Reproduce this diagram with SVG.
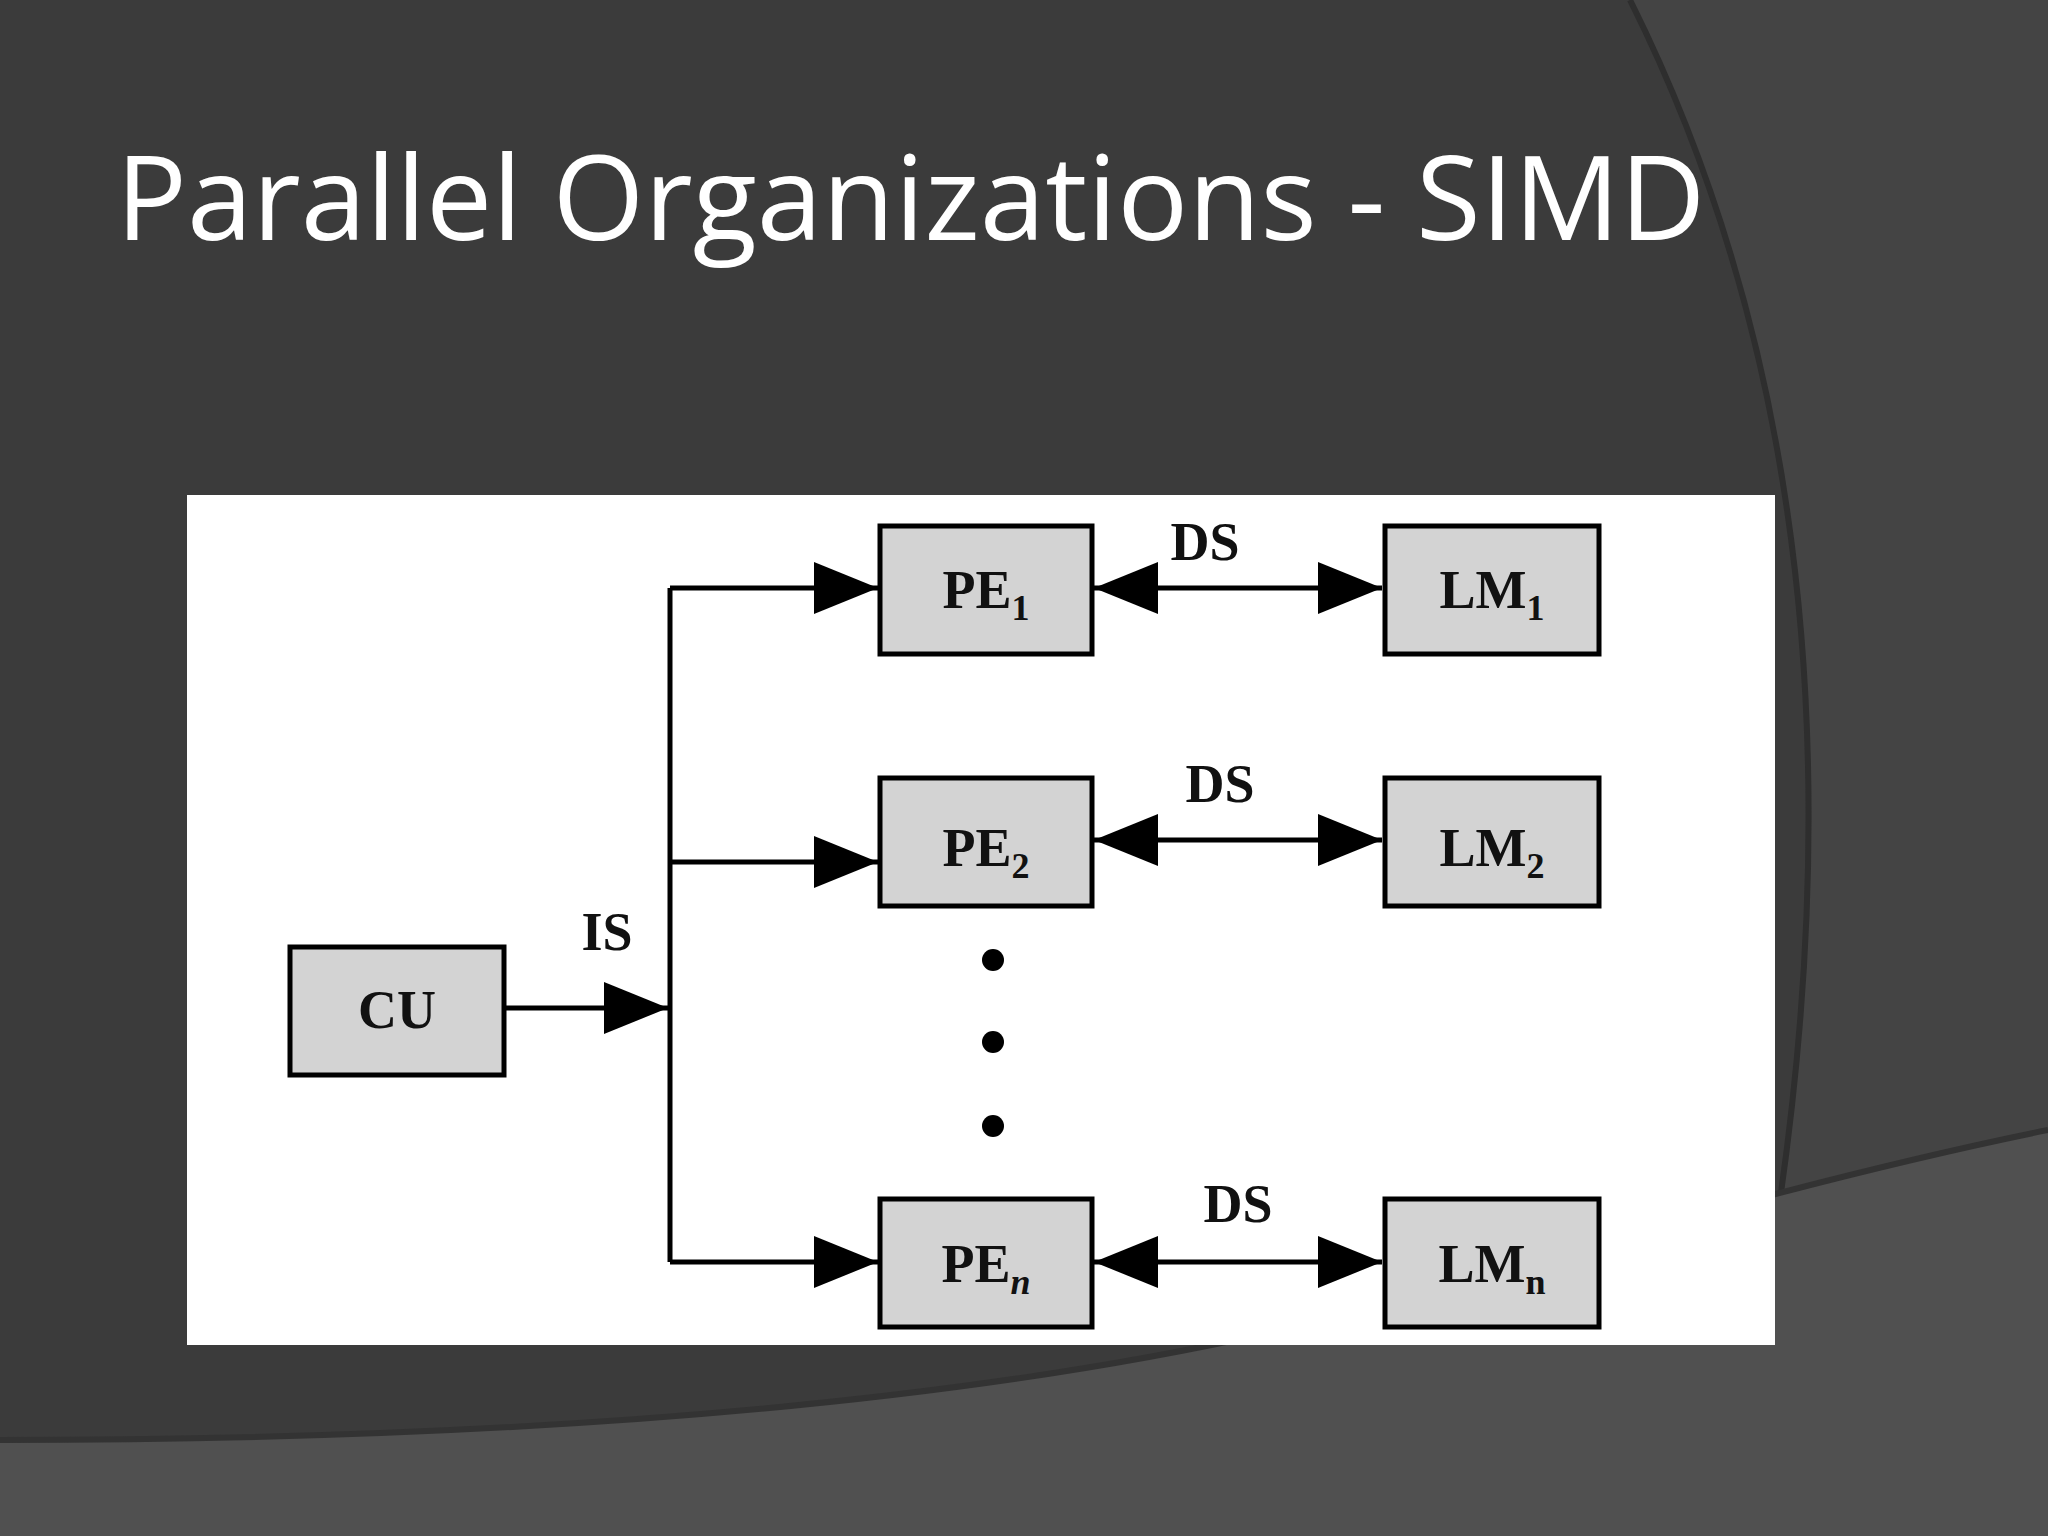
<svg xmlns="http://www.w3.org/2000/svg" width="2048" height="1536" viewBox="0 0 2048 1536">
<defs>
<style>
.box{fill:#d3d3d3;stroke:#000;stroke-width:5}
.ln{stroke:#000;stroke-width:5;fill:none}
.t{font-family:"Liberation Serif",serif;font-weight:bold;font-size:54px;fill:#111;text-anchor:middle}
.s{font-size:36px}
</style>
<marker id="ah" markerWidth="64" markerHeight="52" refX="64" refY="26" orient="auto-start-reverse" markerUnits="userSpaceOnUse" viewBox="0 0 64 52">
<path d="M0,0 L64,26 L0,52 z" fill="#000"/>
</marker>
</defs>
<rect width="2048" height="1536" fill="#3b3b3b"/>
<path d="M1630,0 L2048,0 L2048,1130 L1780,1200 Q1880,500 1630,0 z" fill="#444"/>
<path d="M1630,0 Q1880,500 1780,1200" stroke="#2e2e2e" stroke-width="6" fill="none"/>
<path d="M0,1440 Q900,1440 1400,1300 Q1800,1180 2048,1130 L2048,1536 L0,1536 z" fill="#505050"/>
<path d="M0,1440 Q900,1440 1400,1300 Q1800,1180 2048,1130" stroke="#333" stroke-width="6" fill="none"/>
<text x="116" y="240" font-family="Open Sans, sans-serif" font-size="118" fill="#fff">Parallel Organizations - SIMD</text>
<rect x="187" y="495" width="1588" height="850" fill="#fff"/>
<g id="connectors">
<path class="ln" d="M670,588 V1262"/>
<line class="ln" x1="504" y1="1008" x2="668" y2="1008" marker-end="url(#ah)"/>
<line class="ln" x1="670" y1="588" x2="878" y2="588" marker-end="url(#ah)"/>
<line class="ln" x1="670" y1="862" x2="878" y2="862" marker-end="url(#ah)"/>
<line class="ln" x1="670" y1="1262" x2="878" y2="1262" marker-end="url(#ah)"/>
<line class="ln" x1="1094" y1="588" x2="1382" y2="588" marker-start="url(#ah)" marker-end="url(#ah)"/>
<line class="ln" x1="1094" y1="840" x2="1382" y2="840" marker-start="url(#ah)" marker-end="url(#ah)"/>
<line class="ln" x1="1094" y1="1262" x2="1382" y2="1262" marker-start="url(#ah)" marker-end="url(#ah)"/>
<text class="t" x="607" y="950">IS</text>
<text class="t" x="1205" y="560">DS</text>
<text class="t" x="1220" y="802">DS</text>
<text class="t" x="1238" y="1222">DS</text>
<circle cx="993" cy="960" r="11" fill="#000"/>
<circle cx="993" cy="1042" r="11" fill="#000"/>
<circle cx="993" cy="1126" r="11" fill="#000"/>
</g>
<g id="cu"><rect class="box" x="290" y="947" width="214" height="128"/><text class="t" x="397" y="1028">CU</text></g>
<g id="pe1"><rect class="box" x="880" y="526" width="212" height="128"/><text class="t" x="986" y="608">PE<tspan class="s" dy="12">1</tspan></text></g>
<g id="pe2"><rect class="box" x="880" y="778" width="212" height="128"/><text class="t" x="986" y="866">PE<tspan class="s" dy="12">2</tspan></text></g>
<g id="pen"><rect class="box" x="880" y="1199" width="212" height="128"/><text class="t" x="986" y="1282">PE<tspan class="s" dy="12" font-style="italic">n</tspan></text></g>
<g id="lm1"><rect class="box" x="1385" y="526" width="214" height="128"/><text class="t" x="1492" y="608">LM<tspan class="s" dy="12">1</tspan></text></g>
<g id="lm2"><rect class="box" x="1385" y="778" width="214" height="128"/><text class="t" x="1492" y="866">LM<tspan class="s" dy="12">2</tspan></text></g>
<g id="lmn"><rect class="box" x="1385" y="1199" width="214" height="128"/><text class="t" x="1492" y="1282">LM<tspan class="s" dy="12">n</tspan></text></g>
</svg>
